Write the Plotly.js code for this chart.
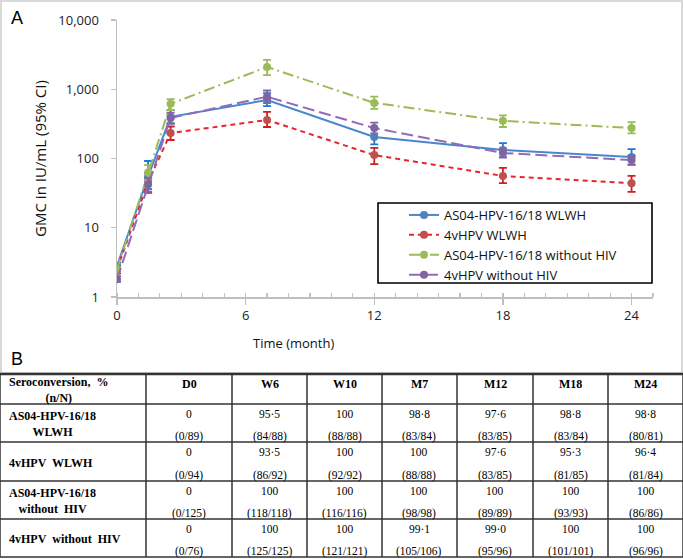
<!DOCTYPE html>
<html>
<head>
<meta charset="utf-8">
<script src="https://cdn.plot.ly/plotly-3.0.1.min.js"></script>
<style>
  html, body { margin: 0; padding: 0; background: #fff; }
  #g0 { width: 683px; height: 559px; }
</style>
</head>
<body>
<div id="g0"></div>
<script>
// GMC by visit (months), with 95% CI
const months = [0, 1.45, 2.5, 7, 12, 18, 24];
const groups = ['AS04-HPV-16/18 WLWH', '4vHPV WLWH', 'AS04-HPV-16/18 without HIV', '4vHPV without HIV'];

const as04Wlwh   = [2.8, 55, 400, 700, 205, 133, 105];
const as04WlwhLo = [2.5, 36, 320, 570, 160, 105, 81];
const as04WlwhHi = [3.1, 92, 500, 880, 280, 167, 137];

const q4Wlwh   = [2.5, 46, 233, 360, 112, 56, 44];
const q4WlwhLo = [2.2, 32, 185, 285, 83, 44, 33];
const q4WlwhHi = [2.8, 62, 290, 470, 142, 73, 56];

const as04Neg   = [2.5, 63, 615, 2100, 635, 350, 275];
const as04NegLo = [2.3, 50, 500, 1600, 520, 285, 230];
const as04NegHi = [2.7, 80, 720, 2650, 780, 420, 335];

const q4Neg   = [1.8, 42, 385, 780, 275, 120, 95];
const q4NegLo = [1.65, 33, 320, 630, 230, 103, 82];
const q4NegHi = [2.0, 52, 460, 960, 330, 140, 110];

const yTicks = [1, 10, 100, 1000, 10000];
const yTickText = ['1', '10', '100', '1,000', '10,000'];
const xTicks = [0, 6, 12, 18, 24];

// panel B table
const tableCols = ['D0', 'W6', 'W10', 'M7', 'M12', 'M18', 'M24'];
const rowLabels = ['AS04-HPV-16/18<br>WLWH', '4vHPV\u00a0 WLWH', 'AS04-HPV-16/18<br>without\u00a0 HIV', '4vHPV\u00a0 without\u00a0 HIV'];
const pctRows = [
  ['0', '95\u00b75', '100', '98\u00b78', '97\u00b76', '98\u00b78', '98\u00b78'],
  ['0', '93\u00b75', '100', '100', '97\u00b76', '95\u00b73', '96\u00b74'],
  ['0', '100', '100', '100', '100', '100', '100'],
  ['0', '100', '100', '99\u00b71', '99\u00b70', '100', '100']
];
const countRows = [
  ['(0/89)', '(84/88)', '(88/88)', '(83/84)', '(83/85)', '(83/84)', '(80/81)'],
  ['(0/94)', '(86/92)', '(92/92)', '(88/88)', '(83/85)', '(81/85)', '(81/84)'],
  ['(0/125)', '(118/118)', '(116/116)', '(98/98)', '(89/89)', '(93/93)', '(86/86)'],
  ['(0/76)', '(125/125)', '(121/121)', '(105/106)', '(95/96)', '(101/101)', '(96/96)']
];

const W = 683, H = 559;
const px = x => x / W;
const py = y => 1 - y / H;

function errs(v, lo, hi) {
  return {
    type: 'data', symmetric: false,
    array: hi.map((h, i) => h - v[i]),
    arrayminus: lo.map((l, i) => v[i] - l),
    thickness: 1.8, width: 4
  };
}

function series(name, y, lo, hi, lineColor, dash, markColor, errColor) {
  let e = errs(y, lo, hi);
  e.color = errColor;
  return {
    x: months, y: y, name: name, type: 'scatter', mode: 'lines+markers',
    line: {color: lineColor, width: 2, dash: dash},
    marker: {color: markColor, size: 8},
    error_y: e
  };
}

const data = [
  series(groups[0], as04Wlwh, as04WlwhLo, as04WlwhHi, '#4A86D0', 'solid', '#4F81BD', '#1F78D8'),
  series(groups[1], q4Wlwh, q4WlwhLo, q4WlwhHi, '#E8262A', '5px,4px', '#C0504D', '#D01E1E'),
  series(groups[2], as04Neg, as04NegLo, as04NegHi, '#9BBB59', '11px,4px,2px,4px', '#9BBB59', '#9BBB59'),
  series(groups[3], q4Neg, q4NegLo, q4NegHi, '#8F6CB8', '12px,5px', '#8064A2', '#8064A2')
];

// table grid
const colEdges = [0, 146, 232, 307, 382, 457, 533, 608, 683];
const rowEdges = [374, 404, 442, 481, 519, 557];

const shapes = [];
const annotations = [];

// chart frame
shapes.push({type: 'rect', xref: 'paper', yref: 'paper', x0: px(1), x1: px(682), y0: py(1), y1: py(373),
  line: {color: '#D9D9D9', width: 2}});
// legend box
shapes.push({type: 'rect', xref: 'paper', yref: 'paper', x0: px(378), x1: px(652), y0: py(203), y1: py(283),
  line: {color: '#000', width: 1.6}, fillcolor: 'rgba(255,255,255,0)'});

rowEdges.forEach((r, i) => {
  shapes.push({type: 'line', xref: 'paper', yref: 'paper', x0: 0, x1: 1, y0: py(r), y1: py(r),
    line: {color: '#333', width: i === 0 ? 2.4 : 1.5}});
});
colEdges.forEach(c => {
  shapes.push({type: 'line', xref: 'paper', yref: 'paper', x0: px(c), x1: px(c), y0: py(rowEdges[0]), y1: py(rowEdges[rowEdges.length - 1]),
    line: {color: '#333', width: 1.5}});
});

const serif = 'Liberation Serif, Times New Roman, serif';

annotations.push({xref: 'paper', yref: 'paper', x: px(7), y: py((rowEdges[0] + rowEdges[1]) / 2 + 1),
  xanchor: 'left', yanchor: 'middle', align: 'center', showarrow: false,
  text: '<b>Seroconversion,\u00a0 %</b><br><b>(n/N)</b>', font: {family: serif, size: 12, color: '#000'}});

tableCols.forEach((c, j) => {
  annotations.push({xref: 'paper', yref: 'paper', x: px((colEdges[j + 1] + colEdges[j + 2]) / 2), y: py(rowEdges[0] + 10),
    xanchor: 'center', yanchor: 'middle', showarrow: false,
    text: '<b>' + c + '</b>', font: {family: serif, size: 12, color: '#000'}});
});

rowLabels.forEach((lab, i) => {
  const top = rowEdges[i + 1], bot = rowEdges[i + 2];
  annotations.push({xref: 'paper', yref: 'paper', x: px(7), y: py((top + bot) / 2 + 1),
    xanchor: 'left', yanchor: 'middle', align: 'center', showarrow: false,
    text: '<b>' + lab + '</b>', font: {family: serif, size: 12, color: '#000'}});
  tableCols.forEach((c, j) => {
    const cx = px((colEdges[j + 1] + colEdges[j + 2]) / 2);
    annotations.push({xref: 'paper', yref: 'paper', x: cx, y: py(top + 10),
      xanchor: 'center', yanchor: 'middle', showarrow: false,
      text: pctRows[i][j], font: {family: serif, size: 11.5, color: '#000'}});
    annotations.push({xref: 'paper', yref: 'paper', x: cx, y: py(bot - 6),
      xanchor: 'center', yanchor: 'middle', showarrow: false,
      text: countRows[i][j], font: {family: serif, size: 11.5, color: '#000'}});
  });
});

// panel letters and x title
annotations.push({xref: 'paper', yref: 'paper', x: px(9), y: py(18), xanchor: 'left', yanchor: 'middle', showarrow: false,
  text: 'A', font: {family: 'Liberation Sans, Arial, sans-serif', size: 18, color: '#000'}});
annotations.push({xref: 'paper', yref: 'paper', x: px(9), y: py(359), xanchor: 'left', yanchor: 'middle', showarrow: false,
  text: 'B', font: {family: 'Liberation Sans, Arial, sans-serif', size: 18, color: '#000'}});
annotations.push({xref: 'paper', yref: 'paper', x: px(293), y: py(343), xanchor: 'center', yanchor: 'middle', showarrow: false,
  text: 'Time (month)', font: {family: 'Open Sans, sans-serif', size: 13, color: '#111'}});

const layout = {
  width: W, height: H,
  margin: {l: 0, r: 0, t: 0, b: 0},
  paper_bgcolor: '#fff', plot_bgcolor: '#fff',
  font: {family: 'Open Sans, sans-serif', size: 13, color: '#222'},
  showlegend: true,
  legend: {x: px(404), y: py(200), xanchor: 'left', yanchor: 'top', bgcolor: 'rgba(255,255,255,0)',
    borderwidth: 0, font: {size: 13, color: '#111'}, tracegroupgap: 0, itemwidth: 30},
  xaxis: {
    domain: [px(117), px(653)], range: [0, 25], type: 'linear',
    tickvals: xTicks, ticks: 'outside', ticklen: 6, tickwidth: 1.3, tickcolor: '#BFBFBF',
    minor: {dtick: 1, ticks: 'inside', ticklen: 4, tickwidth: 1.2, tickcolor: '#BFBFBF'},
    showline: true, linecolor: '#BFBFBF', linewidth: 1.5,
    showgrid: false, zeroline: false, automargin: false, ticklabelstandoff: 0
  },
  yaxis: {
    domain: [py(297), py(20)], type: 'log', range: [0, 4],
    tickvals: yTicks, ticktext: yTickText, ticks: 'outside', ticklen: 5, tickwidth: 1.3, tickcolor: '#BFBFBF',
    showline: true, linecolor: '#BFBFBF', linewidth: 1.5,
    showgrid: false, zeroline: false, automargin: false, ticklabelstandoff: 9,
    title: {text: 'GMC in IU/mL (95% CI)', font: {size: 15, color: '#111'}, standoff: 8}
  },
  shapes: shapes,
  annotations: annotations
};

Plotly.newPlot('g0', data, layout, {staticPlot: true});
</script>
</body>
</html>
